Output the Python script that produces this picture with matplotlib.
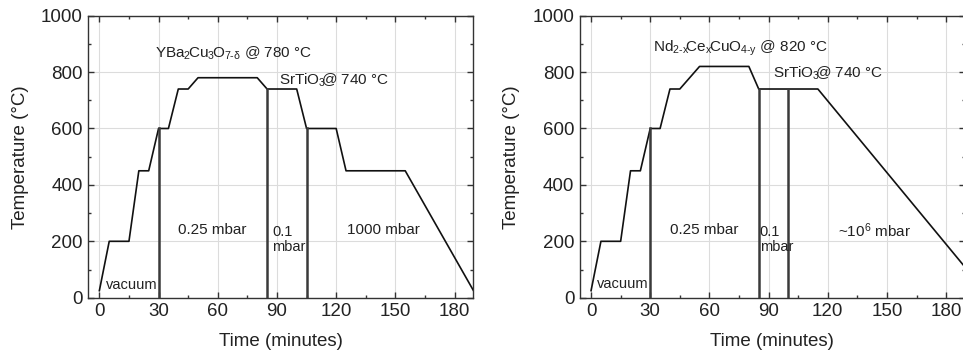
import matplotlib
matplotlib.use("Agg")
import matplotlib.pyplot as plt
from matplotlib.ticker import MultipleLocator

plt.rcParams['font.family'] = ['Liberation Sans', 'DejaVu Sans']
plt.rcParams['mathtext.fontset'] = 'custom'
plt.rcParams['mathtext.rm'] = 'Liberation Sans'
plt.rcParams['mathtext.it'] = 'Liberation Sans:italic'

# temperature profiles (time in minutes, temperature in °C)
t_ybco = [0, 5, 15, 20, 25, 30, 35, 40, 45, 50, 80, 85, 100, 105, 120, 125, 155, 190]
T_ybco = [25, 200, 200, 450, 450, 600, 600, 740, 740, 780, 780, 740, 740, 600, 600, 450, 450, 20]

t_ncco = [0, 5, 15, 20, 25, 30, 35, 40, 45, 55, 80, 85, 115, 190]
T_ncco = [25, 200, 200, 450, 450, 600, 600, 740, 740, 820, 820, 740, 740, 105]

# pressure change markers: (time, top temperature)
switch_ybco = [(30, 600), (85, 740), (105, 600)]
switch_ncco = [(30, 600), (85, 740), (100, 740)]

# annotations: (x, y, text, size)
labels_ybco = [
    (28, 868, r'$\mathregular{YBa_2\!Cu_3\!O_{7\text{-}δ}}$ @ 780 °C', 11),
    (91, 772, r'$\mathregular{SrTiO_3\!\!}$@ 740 °C', 11),
    (40, 240, '0.25 mbar', 11),
    (87.5, 205, '0.1\nmbar', 10.5),
    (125.5, 240, '1000 mbar', 11),
    (3.3, 45, 'vacuum', 10.5),
]
labels_ncco = [
    (31.3, 884, r'$\mathregular{Nd_{2\text{-}x}\!Ce_x\!CuO_{4\text{-}y}}$ @ 820 °C', 11),
    (92, 796, r'$\mathregular{SrTiO_3\!\!}$@ 740 °C', 11),
    (40, 240, '0.25 mbar', 11),
    (85.5, 205, '0.1\nmbar', 10.5),
    (125, 236, r'~10$^{6}$ mbar', 11),
    (3.2, 50, 'vacuum', 10.5),
]

fig = plt.figure(figsize=(9.63, 3.54), dpi=100)
ax1 = fig.add_axes([0.0917, 0.159, 0.3998, 0.7967])
ax2 = fig.add_axes([0.6023, 0.159, 0.3996, 0.7967])


def draw(ax, t, T, switches, labels):
    ax.grid(True, color='#dcdcdc', linewidth=0.8, zorder=0)
    ax.plot(t, T, color='#111111', linewidth=1.2, zorder=3)
    for xs, top in switches:
        ax.plot([xs, xs], [0, top], color='#3a3a3a', linewidth=1.8, zorder=3)
    for x, y, s, fs in labels:
        ax.text(x, y, s, fontsize=fs, color='#222222', va='center', ha='left',
                linespacing=1.1, zorder=4)
    ax.set_xlim(-5.6, 189.5)
    ax.set_ylim(0, 1000)
    ax.xaxis.set_major_locator(MultipleLocator(30))
    ax.xaxis.set_minor_locator(MultipleLocator(15))
    ax.yaxis.set_major_locator(MultipleLocator(200))
    ax.yaxis.set_minor_locator(MultipleLocator(100))
    ax.tick_params(which='both', direction='in', top=True, right=True,
                   colors='#333333', labelcolor='#222222', labelsize=13.5, pad=4)
    ax.tick_params(which='major', length=4, width=1)
    ax.tick_params(which='minor', length=2.5, width=1)
    for sp in ax.spines.values():
        sp.set_color('#333333')
        sp.set_linewidth(1.0)
    ax.set_xlabel('Time (minutes)', fontsize=13.5, color='#222222')
    ax.set_ylabel('Temperature (°C)', fontsize=13.5, color='#222222')
    ax.xaxis.set_label_coords(0.5, -0.125)
    ax.yaxis.set_label_coords(-0.155, 0.5)


draw(ax1, t_ybco, T_ybco, switch_ybco, labels_ybco)
draw(ax2, t_ncco, T_ncco, switch_ncco, labels_ncco)

fig.savefig('out.png', dpi=100)
